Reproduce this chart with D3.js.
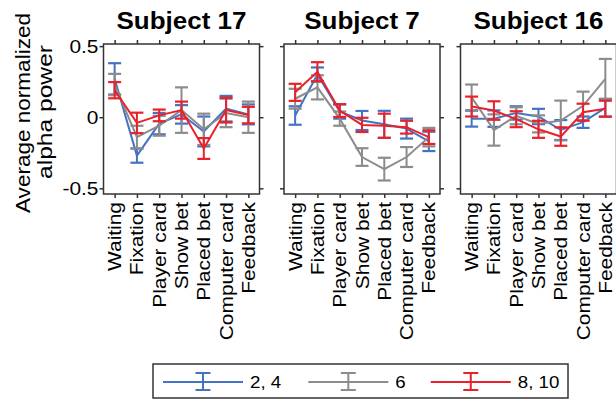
<!DOCTYPE html>
<html><head><meta charset="utf-8">
<script src="https://cdn.jsdelivr.net/npm/d3@7"></script>
<style>body{margin:0;background:#fff}svg{display:block}text{font-family:Arial,"Liberation Sans",sans-serif;fill:#000}</style>
</head><body><svg id="c" width="616" height="399"></svg>
<script>
const categories = ["Waiting","Fixation","Player card","Show bet","Placed bet","Computer card","Feedback"];
const subjects = ["Subject 17","Subject 7","Subject 16"];
const seriesNames = ["2, 4","6","8, 10"];
const seriesColors = ["#4472c4","#8c8c8c","#e8212a"];
const yTicks = [-0.5, 0, 0.5];
const yTickLabels = ["-0.5","0","0.5"];
// means per subject, per series
const s17_24 = [0.27,-0.27,-0.045,0.02,-0.10,0.06,0.02];
const s17_24e = [0.11,0.05,0.075,0.065,0.105,0.09,0.07];
const s17_6 = [0.23,-0.14,-0.06,0.05,-0.085,0.03,0.0];
const s17_6e = [0.075,0.08,0.07,0.16,0.11,0.1,0.11];
const s17_810 = [0.19,-0.04,0.013,0.05,-0.22,0.05,0.015];
const s17_810e = [0.057,0.072,0.041,0.06,0.073,0.087,0.058];
const s7_24 = [0.012,0.30,0.04,-0.023,-0.05,-0.08,-0.17];
const s7_24e = [0.065,0.05,0.05,0.067,0.095,0.07,0.068];
const s7_6 = [0.13,0.21,-0.01,-0.28,-0.365,-0.28,-0.14];
const s7_6e = [0.07,0.085,0.05,0.062,0.08,0.07,0.065];
const s7_810 = [0.175,0.32,0.047,-0.054,-0.06,-0.07,-0.14];
const s7_810e = [0.06,0.067,0.045,0.05,0.085,0.045,0.048];
const s16_24 = [-0.01,-0.01,0.03,0.005,-0.09,-0.035,0.066];
const s16_24e = [0.056,0.058,0.047,0.054,0.07,0.04,0.062];
const s16_6 = [0.14,-0.09,0.01,-0.047,-0.023,0.08,0.27];
const s16_6e = [0.09,0.11,0.06,0.06,0.14,0.1,0.14];
const s16_810 = [0.075,0.047,-0.014,-0.085,-0.136,0.035,0.06];
const s16_810e = [0.07,0.065,0.056,0.06,0.065,0.06,0.056];

const panels = [
  {title: subjects[0], means:[s17_24,s17_6,s17_810], errs:[s17_24e,s17_6e,s17_810e]},
  {title: subjects[1], means:[s7_24,s7_6,s7_810], errs:[s7_24e,s7_6e,s7_810e]},
  {title: subjects[2], means:[s16_24,s16_6,s16_810], errs:[s16_24e,s16_6e,s16_810e]}
];

const svg = d3.select("#c");
const stretch = (sel, f) => sel.each(function(){ const L=this.getComputedTextLength(); d3.select(this).attr("textLength", L*f).attr("lengthAdjust","spacingAndGlyphs"); });
const fixLen = (sel, L) => sel.attr("textLength", L).attr("lengthAdjust","spacingAndGlyphs");

const lefts = [103.5, 284, 460.5], pw = 156, pTop = 44, pBottom = 194;
const y = d3.scaleLinear().domain([-0.54, 0.515]).range([pBottom, pTop]);
const axisColor = "#333";

panels.forEach((p, pi) => {
  const x = d3.scaleLinear().domain([0.5, 7.5]).range([lefts[pi], lefts[pi] + pw]);
  const g = svg.append("g");
  const idx = categories.map((c, i) => i + 1);
  const ax = [
    [d3.axisBottom(x).tickValues(idx).tickFormat(""), `translate(0,${pBottom})`],
    [d3.axisTop(x).tickValues(idx).tickFormat(""), `translate(0,${pTop})`],
    [d3.axisLeft(y).tickValues(yTicks).tickFormat(""), `translate(${lefts[pi]},0)`],
    [d3.axisRight(y).tickValues(yTicks).tickFormat(""), `translate(${lefts[pi]+pw},0)`]
  ];
  ax.forEach(([a, t]) => {
    const ag = g.append("g").attr("transform", t).call(a.tickSizeOuter(0).tickSize(4));
    ag.select(".domain").remove();
    ag.selectAll("line").attr("stroke", axisColor).attr("stroke-width", 1.5);
  });
  [0,1,2].forEach(si => {
    const col = seriesColors[si];
    const m = p.means[si], e = p.errs[si];
    const line = d3.line().x((d, i) => x(i + 1)).y(d => y(d));
    g.append("path").attr("d", line(m)).attr("fill","none").attr("stroke", col).attr("stroke-width", 2);
    m.forEach((v, i) => {
      const cx = x(i + 1), hw = 6.5;
      g.append("line").attr("x1",cx).attr("x2",cx).attr("y1",y(v-e[i])).attr("y2",y(v+e[i])).attr("stroke",col).attr("stroke-width",2);
      [v-e[i], v+e[i]].forEach(b => g.append("line").attr("x1",cx-hw).attr("x2",cx+hw).attr("y1",y(b)).attr("y2",y(b)).attr("stroke",col).attr("stroke-width",2.2));
    });
  });
  g.append("rect").attr("x", lefts[pi]).attr("y", pTop).attr("width", pw).attr("height", pBottom - pTop)
    .attr("fill","none").attr("stroke", axisColor).attr("stroke-width", 1.5);
  stretch(g.append("text").attr("x", lefts[pi] + pw/2).attr("y", 29).attr("text-anchor","middle")
    .attr("font-size", 23).attr("font-weight","bold").text(p.title), 1.13);
  categories.forEach((c, i) => {
    stretch(g.append("text").attr("transform", `translate(${x(i+1)+6.5},202) rotate(-90)`)
      .attr("text-anchor","end").attr("font-size", 19).text(c), 1.1);
  });
  if (pi === 0) {
    yTicks.forEach((t, i) => {
      stretch(g.append("text").attr("x", lefts[0] - 5).attr("y", y(t) + 7).attr("text-anchor","end")
        .attr("font-size", 19).text(yTickLabels[i]), 1.1);
    });
  }
});

fixLen(svg.append("text").attr("transform","translate(30,113) rotate(-90)").attr("text-anchor","middle")
  .attr("font-size", 20).text("Average normalized"), 200);
fixLen(svg.append("text").attr("transform","translate(52,112) rotate(-90)").attr("text-anchor","middle")
  .attr("font-size", 20).text("alpha power"), 134);

const lg = svg.append("g");
lg.append("rect").attr("x",153).attr("y",364).attr("width",415).attr("height",34).attr("fill","#fff")
  .attr("stroke",axisColor).attr("stroke-width",1.5);
let lx = 163; const ly = 382;
seriesNames.forEach((n, i) => {
  const col = seriesColors[i];
  lg.append("line").attr("x1",lx).attr("x2",lx+80).attr("y1",ly).attr("y2",ly).attr("stroke",col).attr("stroke-width",2);
  const bx = lx + 40;
  lg.append("line").attr("x1",bx).attr("x2",bx).attr("y1",373).attr("y2",390).attr("stroke",col).attr("stroke-width",2);
  [373,390].forEach(yy => lg.append("line").attr("x1",bx-7.5).attr("x2",bx+7.5).attr("y1",yy).attr("y2",yy).attr("stroke",col).attr("stroke-width",2));
  const t = lg.append("text").attr("x", lx + 87).attr("y", 388).attr("font-size", 17).text(n);
  stretch(t, 1.1);
  lx = lx + 87 + t.node().getComputedTextLength() * 1.1 + 24;
});
</script></body></html>
